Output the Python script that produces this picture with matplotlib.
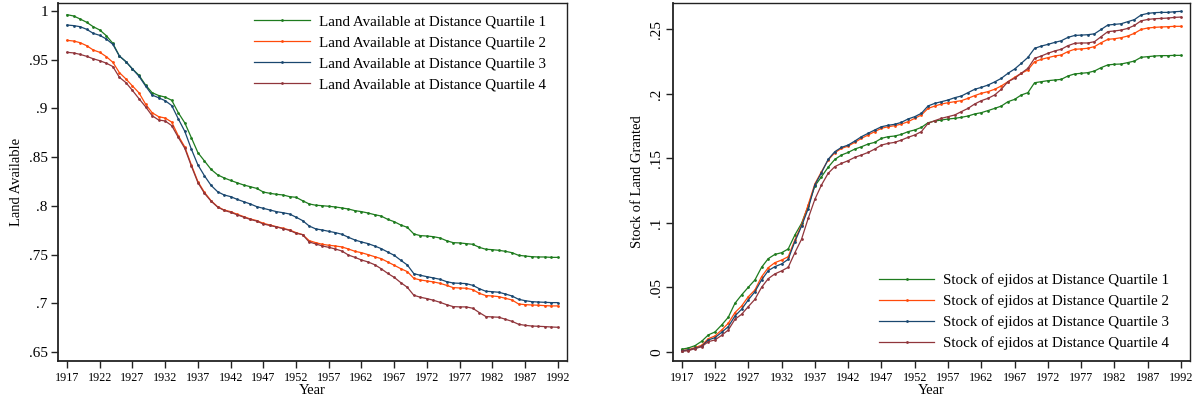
import matplotlib
matplotlib.use("Agg")
import matplotlib.pyplot as plt
import numpy as np

years = list(range(1917, 1993))
xticks = list(range(1917, 1993, 5))

land_q1 = [.9962, .9949, .9918, .9884, .9839, .9805, .9747, .9668, .9538, .9480,
           .9405, .9340, .9241, .9162, .9133, .9117, .9084, .8957, .8852, .8700,
           .8547, .8462, .8376, .8320, .8288, .8262, .8238, .8215, .8198, .8180,
           .8143, .8130, .8120, .8113, .8096, .8089, .8054, .8021, .8008, .8003,
           .7997, .7990, .7980, .7969, .7952, .7942, .7928, .7911, .7897, .7863,
           .7839, .7805, .7781, .7713, .7696, .7692, .7685, .7672, .7644, .7624,
           .7621, .7614, .7607, .7576, .7556, .7552, .7545, .7535, .7521, .7494,
           .7487, .7480, .7477, .7477, .7473, .7473]
land_q2 = [.9699, .9692, .9675, .9644, .9600, .9576, .9532, .9474, .9368, .9303,
           .9231, .9160, .9045, .8957, .8916, .8902, .8860, .8720, .8605, .8421,
           .8250, .8140, .8055, .7993, .7959, .7942, .7915, .7891, .7867, .7850,
           .7822, .7805, .7788, .7771, .7754, .7727, .7706, .7645, .7624, .7607,
           .7597, .7590, .7580, .7559, .7535, .7521, .7501, .7480, .7460, .7426,
           .7392, .7357, .7327, .7258, .7241, .7231, .7221, .7207, .7186, .7163,
           .7159, .7156, .7142, .7104, .7081, .7077, .7070, .7053, .7036, .6995,
           .6988, .6985, .6982, .6978, .6975, .6975]
land_q3 = [.9856, .9850, .9839, .9812, .9771, .9750, .9713, .9658, .9538, .9480,
           .9405, .9330, .9231, .9138, .9110, .9080, .9030, .8894, .8765, .8583,
           .8421, .8310, .8212, .8147, .8113, .8096, .8068, .8044, .8021, .7993,
           .7976, .7959, .7942, .7931, .7918, .7885, .7850, .7795, .7765, .7754,
           .7740, .7727, .7710, .7679, .7651, .7631, .7614, .7590, .7563, .7528,
           .7494, .7443, .7395, .7306, .7289, .7275, .7262, .7248, .7224, .7210,
           .7207, .7204, .7186, .7152, .7125, .7121, .7115, .7097, .7077, .7043,
           .7029, .7019, .7015, .7012, .7009, .7009]
land_q4 = [.9576, .9570, .9555, .9535, .9510, .9490, .9465, .9430, .9320, .9265,
           .9185, .9100, .9018, .8926, .8882, .8872, .8824, .8704, .8591, .8410,
           .8240, .8130, .8050, .7990, .7955, .7935, .7910, .7885, .7862, .7845,
           .7815, .7800, .7785, .7768, .7750, .7720, .7706, .7631, .7611, .7590,
           .7576, .7559, .7538, .7497, .7473, .7446, .7426, .7398, .7357, .7309,
           .7268, .7214, .7166, .7084, .7064, .7050, .7033, .7012, .6988, .6968,
           .6965, .6965, .6951, .6907, .6866, .6862, .6859, .6838, .6817, .6787,
           .6776, .6769, .6766, .6763, .6759, .6756]

stock_q1 = [.0021, .0031, .0049, .0083, .0132, .0155, .0209, .0269, .0377, .0442,
            .0501, .0558, .0656, .0723, .0756, .0769, .0798, .0906, .0996, .1130,
            .1286, .1358, .1431, .1492, .1526, .1546, .1572, .1590, .1611, .1624,
            .1655, .1668, .1673, .1686, .1707, .1720, .1740, .1776, .1789, .1797,
            .1805, .1810, .1818, .1828, .1844, .1854, .1870, .1887, .1905, .1939,
            .1957, .1991, .2009, .2086, .2094, .2102, .2107, .2112, .2138, .2154,
            .2159, .2164, .2177, .2203, .2224, .2229, .2231, .2242, .2254, .2283,
            .2288, .2293, .2296, .2296, .2298, .2298]
stock_q2 = [.0010, .0018, .0034, .0052, .0103, .0124, .0170, .0222, .0305, .0356,
            .0428, .0480, .0583, .0653, .0692, .0712, .0738, .0868, .0984, .1140,
            .1302, .1397, .1487, .1544, .1577, .1595, .1624, .1655, .1681, .1707,
            .1733, .1745, .1753, .1766, .1784, .1810, .1836, .1887, .1905, .1921,
            .1931, .1939, .1947, .1965, .1986, .2004, .2017, .2035, .2061, .2094,
            .2128, .2159, .2185, .2249, .2267, .2280, .2293, .2301, .2327, .2345,
            .2348, .2353, .2366, .2396, .2422, .2427, .2435, .2448, .2469, .2499,
            .2510, .2515, .2518, .2520, .2523, .2523]
stock_q3 = [.0010, .0015, .0028, .0044, .0093, .0111, .0152, .0196, .0279, .0331,
            .0403, .0467, .0558, .0630, .0661, .0682, .0718, .0855, .0974, .1110,
            .1294, .1389, .1492, .1552, .1585, .1603, .1634, .1668, .1694, .1720,
            .1745, .1756, .1764, .1779, .1805, .1823, .1849, .1906, .1926, .1939,
            .1952, .1970, .1983, .2009, .2035, .2050, .2068, .2092, .2120, .2159,
            .2192, .2236, .2282, .2352, .2370, .2383, .2398, .2411, .2437, .2452,
            .2455, .2458, .2465, .2499, .2533, .2538, .2543, .2559, .2575, .2611,
            .2623, .2629, .2631, .2631, .2636, .2639]
stock_q4 = [.0005, .0010, .0026, .0041, .0080, .0093, .0129, .0170, .0253, .0292,
            .0351, .0408, .0501, .0568, .0605, .0628, .0656, .0769, .0873, .1035,
            .1182, .1294, .1384, .1436, .1461, .1482, .1508, .1526, .1546, .1572,
            .1603, .1616, .1624, .1642, .1663, .1681, .1707, .1771, .1792, .1810,
            .1823, .1836, .1862, .1887, .1921, .1947, .1965, .1991, .2035, .2094,
            .2120, .2159, .2198, .2275, .2293, .2314, .2332, .2345, .2373, .2391,
            .2394, .2394, .2404, .2443, .2482, .2487, .2494, .2507, .2530, .2566,
            .2576, .2582, .2584, .2587, .2592, .2595]

land_labels = ["Land Available at Distance Quartile %d" % i for i in range(1, 5)]
stock_labels = ["Stock of ejidos at Distance Quartile %d" % i for i in range(1, 5)]
colors = ["#1e7b1e", "#ff4a0a", "#1a476f", "#90353b"]

left_yticks = [0.65, 0.70, 0.75, 0.80, 0.85, 0.90, 0.95, 1.0]
left_yticklabels = [".65", ".7", ".75", ".8", ".85", ".9", ".95", "1"]
right_yticks = [0, 0.05, 0.10, 0.15, 0.20, 0.25]
right_yticklabels = ["0", ".05", ".1", ".15", ".2", ".25"]

plt.rcParams['font.family'] = ['Liberation Serif', 'DejaVu Serif']

fig = plt.figure(figsize=(12.04, 4.03), dpi=100)
axL = fig.add_axes([0.0478, 0.1042, 0.4231, 0.8891])
axR = fig.add_axes([0.5587, 0.1042, 0.4297, 0.8891])

def style(ax):
    for s in ax.spines.values():
        s.set_color("#222222")
        s.set_linewidth(1.0)
    ax.spines['left'].set_linewidth(1.3)
    ax.spines['bottom'].set_linewidth(1.3)
    ax.tick_params(axis='x', direction='out', length=5, width=1.0,
                   labelsize=8.7, pad=3, colors="#222222", labelcolor="black")
    ax.tick_params(axis='y', direction='out', length=5, width=1.0,
                   labelsize=11, pad=2, colors="#222222", labelcolor="black")
    ax.tick_params(top=False, right=False)
    ax.set_xticks(xticks)
    ax.set_xticklabels([str(x) for x in xticks])
    ax.set_xlabel("Year", fontsize=10.5, labelpad=0)

for series, lab, c in zip([land_q1, land_q2, land_q3, land_q4], land_labels, colors):
    axL.plot(years, series, color=c, lw=0.9, marker='o', markersize=2.0,
             markeredgewidth=0, label=lab)
for series, lab, c in zip([stock_q1, stock_q2, stock_q3, stock_q4], stock_labels, colors):
    axR.plot(years, series, color=c, lw=0.9, marker='o', markersize=2.0,
             markeredgewidth=0, label=lab)

style(axL)
style(axR)

axL.set_xlim(1915.55, 1993.4)
axL.set_ylim(0.641, 1.0085)
axL.set_yticks(left_yticks)
axL.set_yticklabels(left_yticklabels)
axL.set_ylabel("Land Available", fontsize=10.5, labelpad=4)

axR.set_xlim(1915.65, 1993.35)
axR.set_ylim(-0.007, 0.2706)
axR.set_yticks(right_yticks)
axR.set_yticklabels(right_yticklabels, rotation=90, va='center')
axR.set_ylabel("Stock of Land Granted", fontsize=10.5, labelpad=4)

legL = axL.legend(loc='upper left', bbox_to_anchor=(0.3857, 0.9651), frameon=False,
                  fontsize=10.8, handlelength=3.7, handletextpad=0.6,
                  labelspacing=0.49, borderpad=0, borderaxespad=0)
legR = axR.legend(loc='lower left', bbox_to_anchor=(0.3988, 0.03), frameon=False,
                  fontsize=10.8, handlelength=3.7, handletextpad=0.6,
                  labelspacing=0.49, borderpad=0, borderaxespad=0)

fig.savefig("out.png", dpi=100)
